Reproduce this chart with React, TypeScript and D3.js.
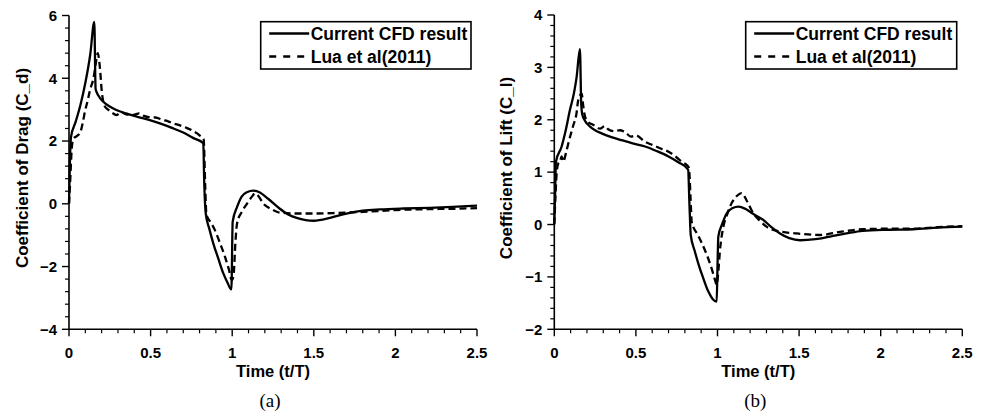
import React from "react";
import * as d3 from "d3";

type Pt = [number, number];

const xTicks = [0, 0.5, 1, 1.5, 2, 2.5];
const xTickLabels = ["0", "0.5", "1", "1.5", "2", "2.5"];
const dragTicks = [-4, -2, 0, 2, 4, 6];
const liftTicks = [-2, -1, 0, 1, 2, 3, 4];
const seriesNames = ["Current CFD result", "Lua et al(2011)"];

const dragCFD: Pt[] = [
  [0, 0], [0.005, 1.2], [0.012, 2.12], [0.04, 2.6], [0.07, 3.15], [0.1, 3.85], [0.13, 4.75], [0.155, 5.8],
  [0.163, 3.66], [0.18, 3.45], [0.21, 3.25], [0.25, 3.1], [0.29, 2.99], [0.35, 2.88], [0.415, 2.78], [0.5, 2.66],
  [0.557, 2.56], [0.63, 2.42], [0.7, 2.27], [0.76, 2.1], [0.823, 1.93], [0.828, 0.8], [0.838, -0.31], [0.86, -0.8],
  [0.884, -1.26], [0.915, -1.75], [0.945, -2.21], [0.97, -2.5], [0.995, -2.73], [1.003, -0.57], [1.03, -0.1],
  [1.058, 0.23], [1.09, 0.37], [1.13, 0.42], [1.17, 0.36], [1.22, 0.16], [1.29, -0.15], [1.34, -0.33], [1.395, -0.45],
  [1.45, -0.52], [1.5, -0.54], [1.6, -0.45], [1.7, -0.31], [1.8, -0.22], [1.905, -0.18], [2.05, -0.15], [2.21, -0.13],
  [2.35, -0.1], [2.5, -0.06],
];

const dragLua: Pt[] = [
  [0, 0], [0.008, 0.8], [0.016, 1.7], [0.025, 2.05], [0.045, 2.15], [0.067, 2.25], [0.085, 2.6], [0.098, 2.95],
  [0.115, 3.3], [0.129, 3.63], [0.15, 4.0], [0.165, 4.5], [0.176, 4.8], [0.19, 4.3], [0.2, 3.63], [0.22, 3.1],
  [0.24, 3.0], [0.265, 2.9], [0.29, 2.83], [0.32, 2.92], [0.35, 2.85], [0.394, 2.83], [0.43, 2.88], [0.46, 2.8],
  [0.49, 2.76], [0.53, 2.75], [0.57, 2.68], [0.61, 2.62], [0.64, 2.56], [0.68, 2.5], [0.72, 2.42], [0.76, 2.32],
  [0.8, 2.18], [0.825, 2.05], [0.835, 0.5], [0.842, -0.35], [0.87, -0.6], [0.894, -0.84], [0.925, -1.25],
  [0.956, -1.69], [0.98, -2.1], [0.997, -2.43], [1.008, -2.3], [1.02, -1.2], [1.03, -0.62], [1.06, -0.25],
  [1.09, 0.0], [1.12, 0.22], [1.14, 0.33], [1.16, 0.25], [1.19, 0.01], [1.24, -0.17], [1.29, -0.28], [1.4, -0.31],
  [1.5, -0.31], [1.65, -0.29], [1.8, -0.26], [2.0, -0.2], [2.2, -0.17], [2.35, -0.16], [2.5, -0.14],
];

const liftCFD: Pt[] = [
  [0, 0.02], [0.005, 0.6], [0.01, 1.2], [0.045, 1.49], [0.07, 1.8], [0.096, 2.19], [0.12, 2.5], [0.137, 2.82],
  [0.157, 3.35], [0.165, 2.3], [0.172, 2.09], [0.19, 1.97], [0.219, 1.87], [0.25, 1.8], [0.29, 1.74], [0.35, 1.67],
  [0.413, 1.61], [0.48, 1.55], [0.556, 1.49], [0.63, 1.4], [0.7, 1.3], [0.76, 1.19], [0.82, 1.05], [0.828, 0.4],
  [0.836, -0.2], [0.86, -0.5], [0.882, -0.74], [0.91, -1.0], [0.944, -1.28], [0.97, -1.42], [0.995, -1.47],
  [1.0, -0.8], [1.005, -0.23], [1.03, 0.02], [1.056, 0.21], [1.09, 0.31], [1.13, 0.34], [1.17, 0.3], [1.22, 0.2],
  [1.28, 0.09], [1.33, -0.05], [1.383, -0.17], [1.44, -0.26], [1.506, -0.3], [1.6, -0.28], [1.69, -0.23],
  [1.79, -0.17], [1.89, -0.12], [2.05, -0.1], [2.2, -0.09], [2.35, -0.06], [2.5, -0.04],
];

const liftLua: Pt[] = [
  [0, 0], [0.008, 0.6], [0.015, 1.0], [0.025, 1.17], [0.035, 1.2], [0.045, 1.3], [0.055, 1.2], [0.07, 1.35],
  [0.09, 1.6], [0.117, 1.9], [0.135, 2.1], [0.147, 2.38], [0.168, 2.5], [0.176, 2.3], [0.184, 2.12], [0.2, 1.98],
  [0.24, 1.9], [0.28, 1.83], [0.31, 1.88], [0.33, 1.82], [0.37, 1.78], [0.4, 1.8], [0.43, 1.77], [0.47, 1.68],
  [0.5, 1.7], [0.556, 1.58], [0.6, 1.52], [0.63, 1.48], [0.66, 1.44], [0.7, 1.39], [0.75, 1.28], [0.78, 1.2],
  [0.81, 1.14], [0.825, 1.08], [0.835, 0.5], [0.842, 0.05], [0.88, -0.2], [0.923, -0.49], [0.96, -0.8],
  [0.985, -1.06], [0.995, -1.15], [1.005, -0.9], [1.015, -0.5], [1.036, -0.04], [1.06, 0.2], [1.087, 0.41],
  [1.12, 0.55], [1.148, 0.6], [1.18, 0.45], [1.22, 0.21], [1.26, 0.07], [1.3, -0.04], [1.38, -0.13], [1.485, -0.17],
  [1.63, -0.2], [1.75, -0.14], [1.89, -0.09], [2.05, -0.08], [2.2, -0.08], [2.35, -0.05], [2.5, -0.03],
];

const SANS = "'Liberation Sans', Arial, sans-serif";
const SERIF = "'Liberation Serif', 'DejaVu Serif', serif";

function fmt(v: number) {
  return v < 0 ? "\u2212" + Math.abs(v) : String(v);
}

interface PanelProps {
  x0: number; x1: number; yTop: number; yBottom: number;
  yDomain: [number, number]; yTicks: number[]; yMinorStep: number;
  cfd: Pt[]; lua: Pt[]; yTitle: string; caption: string;
  legendX: number; legendW: number; titleX: number;
}

function Panel(p: PanelProps) {
  const x = d3.scaleLinear().domain([0, 2.5]).range([p.x0, p.x1]);
  const y = d3.scaleLinear().domain(p.yDomain).range([p.yBottom, p.yTop]);
  const line = d3.line<Pt>().x((d) => x(d[0])).y((d) => y(d[1])).curve(d3.curveMonotoneX);
  const xMinor = d3.range(0, 2.5001, 0.1).filter((v) => Math.abs(v * 2 - Math.round(v * 2)) > 1e-6);
  const nMinor = Math.round((p.yDomain[1] - p.yDomain[0]) / p.yMinorStep);
  const yMinor = d3.range(0, nMinor + 1).map((i) => p.yDomain[0] + i * p.yMinorStep)
    .filter((v) => !p.yTicks.some((t) => Math.abs(t - v) < 1e-6));
  const midX = (p.x0 + p.x1) / 2;
  const lx = p.legendX;
  return (
    <g>
      <path d={line(p.lua) || ""} fill="none" stroke="#000" strokeWidth={2.3} strokeDasharray="7,4" />
      <path d={line(p.cfd) || ""} fill="none" stroke="#000" strokeWidth={2.3} strokeLinejoin="round" />
      {/* axes */}
      <line x1={p.x0} x2={p.x1} y1={p.yBottom} y2={p.yBottom} stroke="#000" strokeWidth={1.6} />
      <line x1={p.x0} x2={p.x0} y1={p.yTop} y2={p.yBottom} stroke="#000" strokeWidth={1.6} />
      {xTicks.map((t, i) => (
        <g key={"xt" + i}>
          <line x1={x(t)} x2={x(t)} y1={p.yBottom} y2={p.yBottom + 7} stroke="#000" strokeWidth={1.4} />
          <text x={x(t)} y={p.yBottom + 28.5} textAnchor="middle" fontFamily={SANS} fontWeight="bold" fontSize={15}>
            {xTickLabels[i]}
          </text>
        </g>
      ))}
      {xMinor.map((t, i) => (
        <line key={"xm" + i} x1={x(t)} x2={x(t)} y1={p.yBottom} y2={p.yBottom + 4} stroke="#000" strokeWidth={1.2} />
      ))}
      {p.yTicks.map((t, i) => (
        <g key={"yt" + i}>
          <line x1={p.x0 - 7} x2={p.x0} y1={y(t)} y2={y(t)} stroke="#000" strokeWidth={1.4} />
          <text x={p.x0 - 12} y={y(t) + 5.3} textAnchor="end" fontFamily={SANS} fontWeight="bold" fontSize={15}>
            {fmt(t)}
          </text>
        </g>
      ))}
      {yMinor.map((t, i) => (
        <line key={"ym" + i} x1={p.x0 - 4} x2={p.x0} y1={y(t)} y2={y(t)} stroke="#000" strokeWidth={1.2} />
      ))}
      <text x={midX} y={p.yBottom + 47.5} textAnchor="middle" fontFamily={SANS} fontWeight="bold" fontSize={16.5}>
        Time (t/T)
      </text>
      <text transform={`translate(${p.titleX},168) rotate(-90)`} textAnchor="middle"
        fontFamily={SANS} fontWeight="bold" fontSize={17}>
        {p.yTitle}
      </text>
      <text x={midX - 3} y={p.yBottom + 78} textAnchor="middle" fontFamily={SERIF} fontSize={19}>
        {p.caption}
      </text>
      {/* legend */}
      <rect x={lx} y={21.7} width={p.legendW} height={47.3} fill="#fff" stroke="#000" strokeWidth={1.6} />
      <line x1={lx + 8.5} x2={lx + 48.5} y1={33.5} y2={33.5} stroke="#000" strokeWidth={2.3} />
      <line x1={lx + 8.5} x2={lx + 48.5} y1={56.5} y2={56.5} stroke="#000" strokeWidth={2.3} strokeDasharray="7,7" />
      <text x={lx + 50} y={39.8} fontFamily={SANS} fontWeight="bold" fontSize={17.5}>{seriesNames[0]}</text>
      <text x={lx + 50} y={62.8} fontFamily={SANS} fontWeight="bold" fontSize={17.5}>{seriesNames[1]}</text>
    </g>
  );
}

export default function App() {
  return (
    <svg width={989} height={416} style={{ position: "absolute", left: 0, top: 0, background: "#fff" }}>
      <rect width={989} height={416} fill="#fff" />
      <Panel x0={69} x1={477} yTop={15.5} yBottom={329.3} yDomain={[-4, 6]} yTicks={dragTicks} yMinorStep={0.4}
        cfd={dragCFD} lua={dragLua} yTitle="Coefficient of Drag (C_d)" caption="(a)" legendX={260.7} legendW={210.3}
        titleX={28} />
      <Panel x0={554.3} x1={962.3} yTop={15} yBottom={329.3} yDomain={[-2, 4]} yTicks={liftTicks} yMinorStep={0.2}
        cfd={liftCFD} lua={liftLua} yTitle="Coefficient of Lift (C_l)" caption="(b)" legendX={745.7} legendW={211}
        titleX={512} />
    </svg>
  );
}
